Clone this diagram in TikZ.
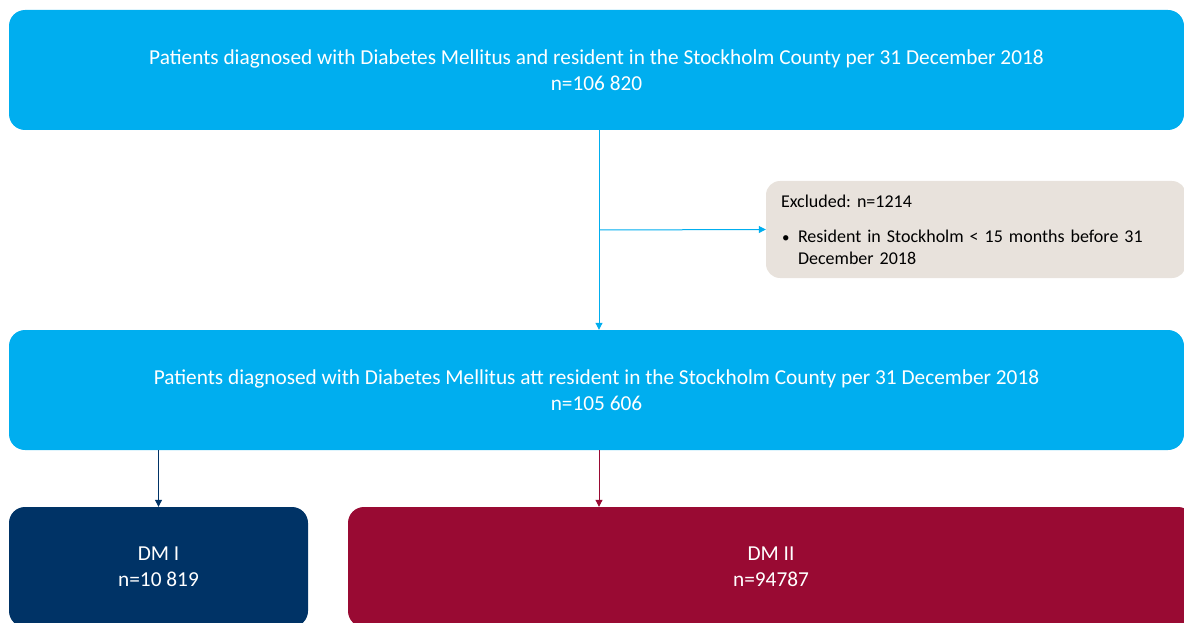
\documentclass[tikz,border=0pt]{standalone}
\usepackage{fontspec}
\setmainfont{Carlito}
\usetikzlibrary{arrows.meta}
\definecolor{cyanbox}{RGB}{0,174,239}
\definecolor{beigebox}{RGB}{232,226,220}
\definecolor{navybox}{RGB}{0,51,102}
\definecolor{winebox}{RGB}{153,10,51}
\tikzset{
  bigbox/.style={rectangle, rounded corners=16pt, fill=cyanbox, text=white, align=center,
    minimum width=1175pt, minimum height=120pt, inner sep=0pt,
    font=\fontsize{21.3}{26}\selectfont},
  groupbox/.style={rectangle, rounded corners=16pt, text=white, align=center,
    minimum height=120pt, inner sep=0pt, font=\fontsize{21.3}{26}\selectfont},
  exclbox/.style={rectangle, rounded corners=14pt, fill=beigebox, text=black, align=left,
    minimum width=420pt, minimum height=97pt, inner sep=0pt, text width=390pt,
    font=\fontsize{18}{22}\selectfont\frenchspacing},
  arr/.style={line width=1pt, -{Triangle[length=7pt,width=7pt]}},
}
\begin{document}
\begin{tikzpicture}[x=1pt,y=-1pt]
\useasboundingbox (0,0) rectangle (1184,623);
\clip (0,0) rectangle (1184,623);
\node[bigbox] (top) at (596.5,70) {Patients diagnosed with Diabetes Mellitus and resident in the Stockholm County per 31 December 2018\\n=106 820};
\node[bigbox] (mid) at (596.5,390) {Patients diagnosed with Diabetes Mellitus att resident in the Stockholm County per 31 December 2018\\n=105 606};
\node[exclbox] (excl) at (976,229.5) {Excluded: n=1214\\[13pt]\makebox[17pt][l]{\hspace{1pt}{\fontsize{15}{15}\selectfont\textbullet}}Resident in Stockholm < 15 months before 31\\\hspace{17pt}December 2018};
\node[groupbox, fill=navybox, minimum width=299pt] (dm1) at (158.5,567) {DM I\\n=10 819};
\node[groupbox, fill=winebox, minimum width=846pt] (dm2) at (771,567) {DM II\\n=94787};
\coordinate (branch) at (599,230);
\draw[arr, cyanbox] (top.south -| branch) -- (mid.north -| branch);
\draw[arr, cyanbox] (branch) -- (excl.west);
\draw[arr, navybox] (mid.south -| dm1.north) -- (dm1.north);
\draw[arr, winebox] (mid.south -| 599,0) -- (dm2.north -| 599,0);
\end{tikzpicture}
\end{document}
